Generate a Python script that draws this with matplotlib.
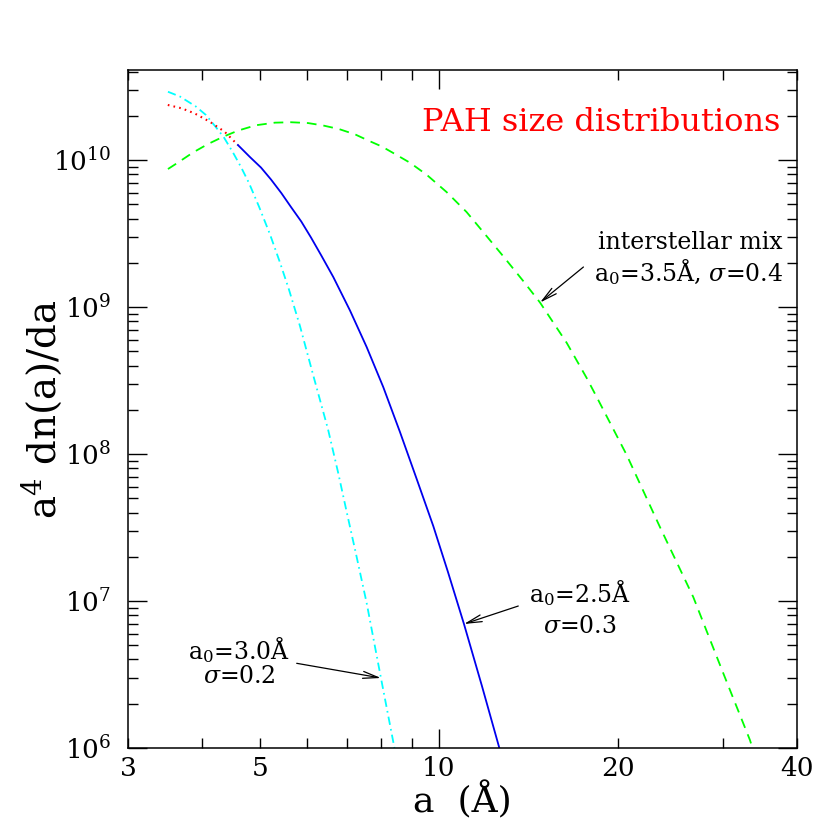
import matplotlib
matplotlib.use("Agg")
import matplotlib.pyplot as plt
from matplotlib.ticker import FixedLocator, FixedFormatter, NullFormatter, LogLocator

plt.rcParams['font.family'] = ['DejaVu Serif']
plt.rcParams['mathtext.fontset'] = 'dejavuserif'
plt.rcParams['lines.scale_dashes'] = False

# a0 = 3.0 A, sigma = 0.2 (cyan dash-dot)
cyan_a = [3.502, 3.669, 3.903, 4.058, 4.202, 4.351, 4.505, 4.647, 4.793, 4.982, 5.200,
          5.404, 5.595, 5.839, 6.148, 6.507, 6.765, 7.003, 7.254, 7.559, 7.989, 8.418]
cyan_y = [2.915e10, 2.704e10, 2.311e10, 2.024e10, 1.703e10, 1.422e10, 1.125e10, 8.962e9,
          6.975e9, 4.827e9, 3.113e9, 2.008e9, 1.315e9, 7.426e8, 3.420e8, 1.479e8, 7.543e7,
          3.968e7, 2.088e7, 9.692e6, 2.994e6, 1.0e6]

# a0 = 2.5 A, sigma = 0.3, small-a part (red dotted)
red_a = [3.50, 3.69, 3.88, 4.12, 4.36, 4.592]
red_y = [2.37e10, 2.25e10, 2.08e10, 1.82e10, 1.56e10, 1.265e10]

# a0 = 2.5 A, sigma = 0.3 (blue solid)
blue_a = [4.592, 4.811, 5.021, 5.220, 5.432, 5.640, 5.869, 6.094, 6.342, 6.643, 7.087,
          7.559, 8.060, 8.600, 9.175, 9.783, 10.356, 11.018, 11.812, 12.635]
blue_y = [1.265e10, 1.048e10, 8.89e9, 7.368e9, 5.964e9, 4.788e9, 3.815e9, 2.970e9, 2.240e9,
          1.600e9, 9.467e8, 5.344e8, 2.857e8, 1.411e8, 6.760e7, 3.237e7, 1.575e7, 6.975e6,
          2.641e6, 1.0e6]

# interstellar mix: a0 = 3.5 A, sigma = 0.4 (green dashed)
green_a = [3.502, 3.641, 3.858, 4.089, 4.333, 4.592, 4.924, 5.300, 5.638, 6.023, 6.383,
           6.791, 7.224, 7.639, 8.020, 8.380, 8.940, 9.536, 10.30, 11.13, 11.87, 12.83,
           13.86, 14.79, 16.40, 17.72, 18.42, 20.69, 23.53, 26.77, 29.92, 33.34, 33.67]
green_y = [8.686e9, 9.616e9, 1.125e10, 1.285e10, 1.438e10, 1.585e10, 1.725e10, 1.796e10,
           1.808e10, 1.785e10, 1.719e10, 1.625e10, 1.496e10, 1.347e10, 1.235e10, 1.116e10,
           9.586e9, 7.943e9, 6.058e9, 4.429e9, 3.238e9, 2.213e9, 1.503e9, 1.073e9, 5.707e8,
           3.289e8, 2.442e8, 9.845e7, 3.187e7, 1.065e7, 3.393e6, 1.133e6, 1.0e6]

xtick_major = [10]
xtick_minor = [3, 4, 5, 6, 7, 8, 9, 20, 30, 40]
xtick_minor_labels = ['3', '', '5', '', '', '', '', '20', '', '40']

fig = plt.figure(figsize=(8.3, 8.3), dpi=100)
ax = fig.add_axes([0.1542, 0.0988, 0.8060, 0.8169])

ax.plot(cyan_a, cyan_y, color='#00ffff', lw=1.3, dashes=(6, 3, 1.2, 3))
ax.plot(red_a, red_y, color='#ff0000', lw=1.5, dashes=(1.2, 3))
ax.plot(blue_a, blue_y, color='#0000ee', lw=1.3)
ax.plot(green_a, green_y, color='#00ff00', lw=1.3, dashes=(7, 5))

ax.set_xscale('log')
ax.set_yscale('log')
ax.set_xlim(3, 40)
ax.set_ylim(1e6, 4.1e10)

ax.xaxis.set_major_locator(FixedLocator(xtick_major))
ax.xaxis.set_major_formatter(FixedFormatter(['10']))
ax.xaxis.set_minor_locator(FixedLocator(xtick_minor))
ax.xaxis.set_minor_formatter(FixedFormatter(xtick_minor_labels))
ax.yaxis.set_major_locator(LogLocator(base=10, numticks=20))
ax.yaxis.set_minor_locator(LogLocator(base=10, subs=range(2, 10), numticks=20))
ax.yaxis.set_minor_formatter(NullFormatter())

ax.tick_params(which='both', direction='in', top=True, right=True, width=1.0)
ax.tick_params(which='major', length=14, labelsize=19)
ax.tick_params(which='minor', length=7, labelsize=19)
ax.tick_params(axis='x', which='both', pad=6)
ax.tick_params(axis='y', which='both', pad=12)
for s in ax.spines.values():
    s.set_linewidth(1.1)

ax.set_xlabel('a  (Å)', fontsize=26, labelpad=0)
ax.set_ylabel('a$^4$ dn(a)/da', fontsize=28)
ax.yaxis.set_label_coords(-0.096, 0.5)

ax.text(0.975, 0.922, 'PAH size distributions', color='red', fontsize=23,
        transform=ax.transAxes, ha='right', va='center')

fs = 17
ax.text(0.978, 0.746, 'interstellar mix', fontsize=fs, transform=ax.transAxes,
        ha='right', va='center')
ax.text(0.979, 0.702, 'a$_0$=3.5Å, $\\sigma$=0.4', fontsize=fs, transform=ax.transAxes,
        ha='right', va='center')
ax.text(0.6756, 0.2286, 'a$_0$=2.5Å', fontsize=fs, transform=ax.transAxes,
        ha='center', va='center')
ax.text(0.6756, 0.1785, '$\\sigma$=0.3', fontsize=fs, transform=ax.transAxes,
        ha='center', va='center')
ax.text(0.166, 0.1445, 'a$_0$=3.0Å', fontsize=fs, transform=ax.transAxes,
        ha='center', va='center')
ax.text(0.166, 0.105, '$\\sigma$=0.2', fontsize=fs, transform=ax.transAxes,
        ha='center', va='center')

arrow = dict(arrowstyle='->,head_length=1.1,head_width=0.25', color='black', lw=0.9,
             shrinkA=0, shrinkB=0)
ax.annotate('', xy=(green_a[23], green_y[23]), xycoords='data',
            xytext=(0.6808, 0.7094), textcoords='axes fraction', arrowprops=arrow)
ax.annotate('', xy=(blue_a[17], blue_y[17]), xycoords='data',
            xytext=(0.5834, 0.2094), textcoords='axes fraction', arrowprops=arrow)
ax.annotate('', xy=(cyan_a[20], cyan_y[20]), xycoords='data',
            xytext=(0.2522, 0.1249), textcoords='axes fraction', arrowprops=arrow)

fig.savefig('out.png', dpi=100)
